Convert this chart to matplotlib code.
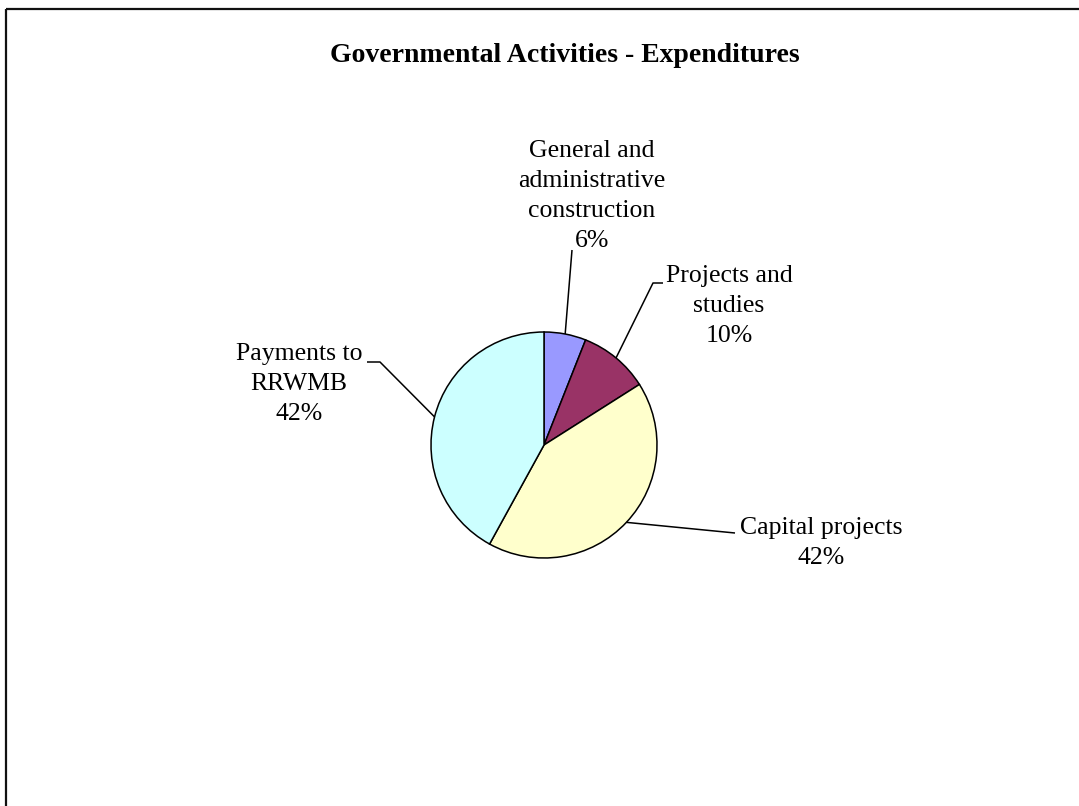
import numpy as np
import matplotlib
matplotlib.use("Agg")
import matplotlib.pyplot as plt

title = "Governmental Activities - Expenditures"
categories = ["General and\nadministrative\nconstruction", "Projects and\nstudies",
              "Capital projects", "Payments to\nRRWMB"]
values = [6, 10, 42, 42]
colors = ["#9999FF", "#993366", "#FFFFCC", "#CCFFFF"]

W, H = 1079, 806
fig = plt.figure(figsize=(W / 100, H / 100), dpi=100)
ax = fig.add_axes([0, 0, 1, 1])

def Y(y):
    return H - y

cx, cy, r = 544, Y(445), 113
wedges, _ = ax.pie(values, colors=colors, startangle=90, counterclock=False,
                   center=(cx, cy), radius=r, frame=True,
                   wedgeprops=dict(edgecolor="black", linewidth=1.1))
ax.set_xlim(0, W)
ax.set_ylim(0, H)
ax.set_aspect("equal")
ax.axis("off")

font = dict(family="Liberation Serif", fontsize=18.5, color="black")
# label centers and leader routes (image coords)
label_pos = [(592, 196), (729, 306), (821, 543), (299, 384)]
leader_pts = [[(572, 250)], [(653, 283), (663, 283)], [(735, 533)], [(380, 362), (367, 362)]]

for i, w in enumerate(wedges):
    mid = np.deg2rad((w.theta1 + w.theta2) / 2)
    sx = cx + r * np.cos(mid)
    sy = cy + r * np.sin(mid)
    xs = [sx] + [p[0] for p in leader_pts[i]]
    ys = [sy] + [Y(p[1]) for p in leader_pts[i]]
    ax.plot(xs, ys, color="black", lw=1.1, solid_capstyle="butt")
    lx, ly = label_pos[i]
    ax.text(lx, Y(ly), f"{categories[i]}\n{values[i]}%", ha="center", va="center",
            multialignment="center", linespacing=1.48, **font)

ax.text(565, Y(56), title, ha="center", va="center", family="Liberation Serif",
        fontsize=20, fontweight="bold")

# outer chart border (extends past the right and bottom edges)
ax.plot([6, 6], [0, Y(9)], color="#111111", lw=1.6, solid_capstyle="butt")
ax.plot([6, W + 5], [Y(9), Y(9)], color="#111111", lw=1.6, solid_capstyle="butt")

fig.savefig("out.png", dpi=100)
